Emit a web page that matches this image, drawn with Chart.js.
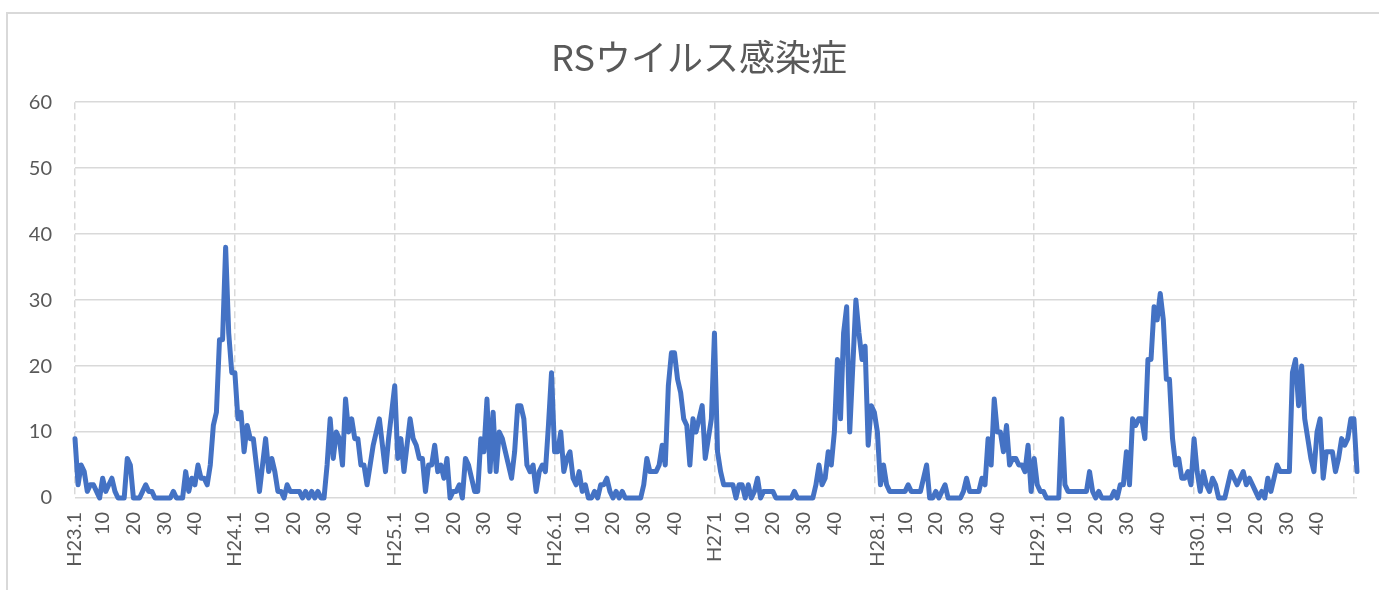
<!DOCTYPE html>
<html><head><meta charset="utf-8">
<script src="https://cdn.jsdelivr.net/npm/chart.js@4.4.1/dist/chart.umd.min.js"></script>
<style>
html,body{margin:0;padding:0;background:#fff;overflow:hidden;width:1379px;height:590px;}
#frame{position:absolute;left:6px;top:12px;width:1500px;height:700px;border:2px solid #D9D9D9;box-sizing:border-box;}
#wrap{position:absolute;left:0;top:0;width:1379px;height:590px;}
</style></head><body>
<div id="frame"></div>
<div id="wrap"><canvas id="c"></canvas></div>
<script>
const chartTitle = 'RSウイルス感染症';
const yearLabels = ['H23.1','H24.1','H25.1','H26.1','H271','H28.1','H29.1','H30.1'];
const weekLabels = ['10','20','30','40'];
const weekOffsets = [9,19,29,39];
const yMin = 0, yMax = 60, yStep = 10;

const h23 = [9,2,5,4,1,2,2,1,0,3,1,2,3,1,0,0,0,6,5,0,0,0,1,2,1,1,0,0,0,0,0,0,1,0,0,0,4,1,3,2,5,3,3,2,5,11,13,24,24,38,25,19];
const h24 = [19,12,13,7,11,9,9,5,1,5,9,4,6,4,1,1,0,2,1,1,1,1,0,1,0,1,0,1,0,0,5,12,6,10,9,5,15,10,12,9,9,5,5,2,5,8,10,12,8,4,9,13];
const h25 = [17,6,9,4,8,12,9,8,6,6,1,5,5,8,4,5,3,6,0,1,1,2,0,6,5,3,1,1,9,7,15,4,13,4,10,9,7,5,3,7,14,14,12,5,4,5,1,4,5,4,11,19];
const h26 = [7,7,10,4,6,7,3,2,4,1,2,0,0,1,0,2,2,3,1,0,1,0,1,0,0,0,0,0,0,2,6,4,4,4,5,8,5,17,22,22,18,16,12,11,5,12,10,12,14,6,9,12];
const h27 = [25,7,4,2,2,2,2,0,2,2,0,2,0,1,3,0,1,1,1,1,0,0,0,0,0,0,1,0,0,0,0,0,0,2,5,2,3,7,5,10,21,12,25,29,10,20,30,25,21,23,8,14,13];
const h28 = [10,2,5,2,1,1,1,1,1,1,2,1,1,1,1,3,5,0,0,1,0,1,2,0,0,0,0,0,1,3,1,1,1,1,3,2,9,5,15,10,10,7,11,5,6,6,5,5,4,8,1,6];
const h29 = [2,1,1,0,0,0,0,0,12,2,1,1,1,1,1,1,1,4,1,0,1,0,0,0,0,1,0,2,2,7,2,12,11,12,12,9,21,21,29,27,31,27,18,18,9,5,6,3,3,4,2,9];
const h30 = [4,1,4,2,1,3,2,0,0,0,2,4,3,2,3,4,2,3,2,1,0,1,0,3,1,3,5,4,4,4,4,19,21,14,20,12,9,6,4,10,12,3,7,7,7,4,6,9,8,9,12,12,4];

const years = [h23,h24,h25,h26,h27,h28,h29,h30];
const values = [];
const labels = [];
years.forEach((arr, y) => {
  arr.forEach((v, w) => {
    values.push(v);
    let lab = '';
    if (w === 0) lab = yearLabels[y];
    else {
      const k = weekOffsets.indexOf(w);
      if (k >= 0) lab = weekLabels[k];
    }
    labels.push(lab);
  });
});

const textColor = '#595959';
const gridColor = '#D9D9D9';

const titleShift = {
  id: 'titleShift',
  afterLayout(chart) {
    const t = chart.titleBlock;
    if (t) { t.left += 10.5; t.right += 10.5; }
  }
};

new Chart(document.getElementById('c'), {
  type: 'line',
  data: {
    labels: labels,
    datasets: [{
      data: values,
      borderColor: '#4472C4',
      borderWidth: 5,
      pointRadius: 0,
      tension: 0,
      fill: false,
      borderJoinStyle: 'round',
      borderCapStyle: 'round',
      clip: false
    }]
  },
  plugins: [titleShift],
  options: {
    responsive: true,
    maintainAspectRatio: false,
    animation: false,
    devicePixelRatio: 1,
    layout: { padding: { left: 20, right: 22, top: 0, bottom: 0 } },
    plugins: {
      legend: { display: false },
      tooltip: { enabled: false },
      title: {
        display: true,
        text: chartTitle,
        color: textColor,
        font: { family: "'Noto Sans CJK JP'", size: 36, weight: 'normal', lineHeight: 1.2 },
        padding: { top: 36, bottom: 23 }
      }
    },
    scales: {
      x: {
        type: 'category',
        grid: {
          color: ctx => (ctx.index % 52 === 0 ? gridColor : 'rgba(0,0,0,0)'),
          lineWidth: 1.5,
          drawTicks: false
        },
        border: { display: false, dash: [7, 4] },
        ticks: {
          autoSkip: false, maxRotation: 90, minRotation: 90, padding: 14,
          color: textColor, font: { family: 'Lato', size: 20 }
        },
        afterFit: s => { s.height = 92; s.paddingLeft = 0; s.paddingRight = 0; }
      },
      y: {
        min: yMin, max: yMax,
        grid: { color: gridColor, lineWidth: 1.5, drawTicks: false },
        border: { display: false },
        ticks: { stepSize: yStep, padding: 23, color: textColor, font: { family: 'Lato', size: 20 } },
        afterFit: s => { s.width = 55; s.paddingTop = 0; s.paddingBottom = 0; }
      }
    }
  }
});
</script>
</body></html>
